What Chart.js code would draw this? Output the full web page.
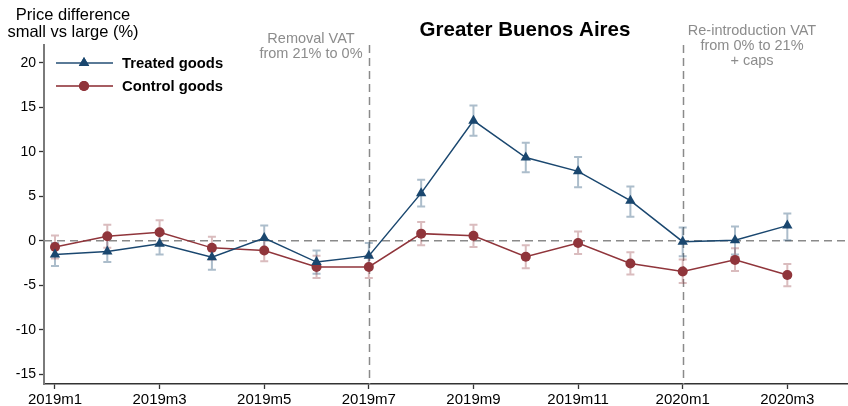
<!DOCTYPE html>
<html>
<head>
<meta charset="utf-8">
<title>Greater Buenos Aires</title>
<script src="https://cdn.jsdelivr.net/npm/chart.js@4/dist/chart.umd.min.js"></script>
<style>
  html, body { margin: 0; padding: 0; background: #fff; }
  #wrap { width: 848px; height: 406px; }
</style>
</head>
<body>
<div id="wrap"><canvas id="chart" width="848" height="406"></canvas></div>
<script>
// Monthly periods, 2019m1 .. 2020m3
const months = ['2019m1','2019m2','2019m3','2019m4','2019m5','2019m6','2019m7','2019m8',
                '2019m9','2019m10','2019m11','2019m12','2020m1','2020m2','2020m3'];

// Price difference small vs large stores (%), with 95% confidence bounds
const treated   = [-1.55, -1.2, -0.35, -1.85, 0.3, -2.4, -1.7, 5.35, 13.5, 9.35, 7.8, 4.5, -0.1, 0.05, 1.7];
const treatedHi = [-0.25, 0.2, 0.9, -0.6, 1.7, -1.1, -0.25, 6.85, 15.2, 11.0, 9.4, 6.1, 1.5, 1.6, 3.05];
const treatedLo = [-2.85, -2.4, -1.55, -3.25, -1.0, -3.7, -2.9, 3.85, 11.8, 7.7, 6.0, 2.7, -1.75, -1.55, 0.05];

const control   = [-0.7, 0.5, 0.95, -0.8, -1.1, -2.95, -2.95, 0.8, 0.55, -1.8, -0.25, -2.55, -3.45, -2.15, -3.85];
const controlHi = [0.6, 1.8, 2.3, 0.45, 0.1, -1.7, -1.7, 2.1, 1.8, -0.5, 1.05, -1.3, -2.1, -0.85, -2.6];
const controlLo = [-2.0, -0.8, -0.35, -2.1, -2.3, -4.2, -4.2, -0.5, -0.7, -3.1, -1.5, -3.8, -4.75, -3.4, -5.1];

// Axis ticks
const xTickIdx = [0, 2, 4, 6, 8, 10, 12, 14];
const yTicks = [-15, -10, -5, 0, 5, 10, 15, 20];

// Policy events (month index) and their notes
const eventIdx = [6, 12];
const eventNotes = [
  ['Removal VAT', 'from 21% to 0%'],
  ['Re-introduction VAT', 'from 0% to 21%', '+ caps']
];

const NAVY = '#1a476f';
const MAROON = '#90353b';
const FONT = '"Liberation Sans", Arial, Helvetica, sans-serif';

const toXY = arr => arr.map((v, i) => ({ x: i, y: v }));

const seriesCI = [
  { lo: treatedLo, hi: treatedHi, color: 'rgba(26,71,111,0.36)' },
  { lo: controlLo, hi: controlHi, color: 'rgba(144,53,59,0.33)' }
];

const decor = {
  id: 'decor',
  beforeDatasetsDraw(chart) {
    const { ctx, chartArea: a, scales: { x, y } } = chart;
    ctx.save();
    // reference lines
    ctx.strokeStyle = '#8a8a8a';
    ctx.lineWidth = 1.5;
    ctx.setLineDash([8, 5]);
    const y0 = y.getPixelForValue(0);
    ctx.beginPath(); ctx.moveTo(a.left, y0); ctx.lineTo(a.right, y0); ctx.stroke();
    eventIdx.forEach(m => {
      const px = Math.round(x.getPixelForValue(m)) + 0.5;
      ctx.beginPath(); ctx.moveTo(px, a.top); ctx.lineTo(px, a.bottom); ctx.stroke();
    });
    ctx.setLineDash([]);
    // confidence intervals
    seriesCI.forEach(s => {
      ctx.strokeStyle = s.color;
      ctx.lineWidth = 2;
      s.lo.forEach((lo, i) => {
        const px = x.getPixelForValue(i);
        const pl = y.getPixelForValue(lo);
        const ph = y.getPixelForValue(s.hi[i]);
        ctx.beginPath();
        ctx.moveTo(px, pl); ctx.lineTo(px, ph);
        ctx.moveTo(px - 4, pl); ctx.lineTo(px + 4, pl);
        ctx.moveTo(px - 4, ph); ctx.lineTo(px + 4, ph);
        ctx.stroke();
      });
    });
    ctx.restore();
  },
  afterDraw(chart) {
    const { ctx } = chart;
    ctx.save();
    // title
    ctx.fillStyle = '#000';
    ctx.textAlign = 'center';
    ctx.textBaseline = 'alphabetic';
    ctx.font = 'bold 20.5px ' + FONT;
    ctx.fillText('Greater Buenos Aires', 525, 36);
    // y-axis title
    ctx.font = '16.5px ' + FONT;
    ctx.fillText('Price difference', 73, 20);
    ctx.fillText('small vs large (%)', 73, 37);
    // event notes, centred vertically around the same line
    ctx.fillStyle = '#8c8c8c';
    ctx.font = '14.5px ' + FONT;
    const centers = [311, 752];
    eventNotes.forEach((lines, k) => {
      const lh = 15;
      const start = 46 - (lines.length - 1) * lh / 2;
      lines.forEach((t, j) => {
        ctx.textBaseline = 'middle';
        ctx.fillText(t, centers[k], start + j * lh);
      });
    });
    // legend
    const items = [
      { label: 'Treated goods', line: 'rgba(26,71,111,0.72)', color: NAVY, style: 'triangle', y: 63 },
      { label: 'Control goods', line: 'rgba(144,53,59,0.8)', color: MAROON, style: 'circle', y: 86 }
    ];
    items.forEach(it => {
      ctx.strokeStyle = it.line;
      ctx.lineWidth = 2;
      ctx.beginPath(); ctx.moveTo(56, it.y); ctx.lineTo(113, it.y); ctx.stroke();
      ctx.fillStyle = it.color;
      Chart.helpers.drawPoint(ctx, { pointStyle: it.style, radius: it.style === 'triangle' ? 6 : 5, rotation: 0, borderWidth: 0 }, 84, it.y);
      ctx.fill();
      ctx.fillStyle = '#000';
      ctx.textAlign = 'left';
      ctx.textBaseline = 'middle';
      ctx.font = 'bold 14.8px ' + FONT;
      ctx.fillText(it.label, 122, it.y + 1);
    });
    ctx.restore();
  }
};

new Chart(document.getElementById('chart'), {
  type: 'line',
  data: {
    datasets: [
      {
        label: 'Treated goods',
        data: toXY(treated),
        borderColor: NAVY,
        backgroundColor: NAVY,
        borderWidth: 1.5,
        pointStyle: 'triangle',
        pointRadius: 6,
        pointBorderWidth: 0,
        tension: 0
      },
      {
        label: 'Control goods',
        data: toXY(control),
        borderColor: MAROON,
        backgroundColor: MAROON,
        borderWidth: 1.5,
        pointStyle: 'circle',
        pointRadius: 5,
        pointBorderWidth: 0,
        tension: 0
      }
    ]
  },
  options: {
    responsive: false,
    animation: false,
    layout: { autoPadding: false, padding: { top: 45, right: 0, left: 0, bottom: 0 } },
    plugins: {
      legend: { display: false },
      title: { display: false },
      tooltip: { enabled: false }
    },
    scales: {
      x: {
        type: 'linear',
        min: -0.21,
        max: 15.16,
        afterBuildTicks: s => { s.ticks = xTickIdx.map(v => ({ value: v })); },
        afterFit: s => { s.height = 22; s.paddingLeft = 0; s.paddingRight = 0; },
        ticks: {
          callback: v => months[v],
          font: { family: FONT, size: 15 },
          color: '#000',
          padding: 2,
          maxRotation: 0,
          autoSkip: false
        },
        grid: { drawOnChartArea: false, tickLength: 5, tickColor: '#333', tickWidth: 1.3 },
        border: { color: '#333', width: 1.5 }
      },
      y: {
        min: -16.1,
        max: 22,
        afterBuildTicks: s => { s.ticks = yTicks.map(v => ({ value: v })); },
        afterFit: s => { s.width = 44; },
        ticks: {
          font: { family: FONT, size: 14 },
          color: '#000',
          padding: 3
        },
        grid: { drawOnChartArea: false, tickLength: 5, tickColor: '#333', tickWidth: 1.3 },
        border: { color: '#7a7a7a', width: 2 }
      }
    }
  },
  plugins: [decor]
});
</script>
</body>
</html>
